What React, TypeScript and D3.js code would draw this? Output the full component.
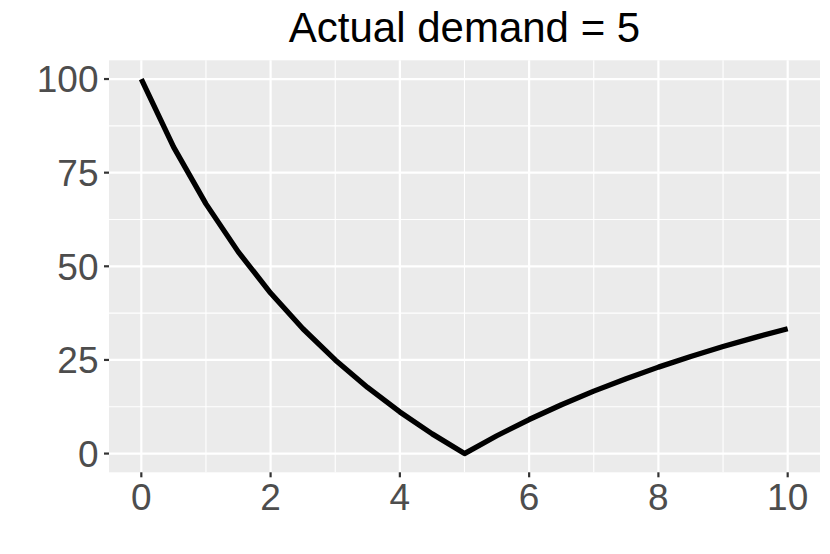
import React from "react";
import * as d3 from "d3";

const forecast = [0, 0.5, 1, 1.5, 2, 2.5, 3, 3.5, 4, 4.5, 5, 5.5, 6, 6.5, 7, 7.5, 8, 8.5, 9, 9.5, 10];
const errorPct = [100, 81.82, 66.67, 53.85, 42.86, 33.33, 25, 17.65, 11.11, 5.26, 0, 4.76, 9.09, 13.04, 16.67, 20, 23.08, 25.93, 28.57, 31.03, 33.33];
const xTicks = [0, 2, 4, 6, 8, 10];
const xMinor = [1, 3, 5, 7, 9];
const yTicks = [0, 25, 50, 75, 100];
const yMinor = [12.5, 37.5, 62.5, 87.5];
const title = "Actual demand = 5";

export default function App() {
  const W = 830, H = 554;
  const left = 109, right = 820, top = 60.3, bottom = 472.3;
  const xs = d3.scaleLinear().domain([-0.5, 10.5]).range([left, right]);
  const ys = d3.scaleLinear().domain([-5, 105]).range([bottom, top]);
  const line = d3.line<number>().x((_, i) => xs(forecast[i])).y((d) => ys(d));
  const font = "Liberation Sans, Arial, Helvetica, sans-serif";
  return (
    <svg width={W} height={H} style={{ position: "absolute", left: 0, top: 0, background: "#fff" }}>
      <rect x={left} y={top} width={right - left} height={bottom - top} fill="#EBEBEB" />
      {xMinor.map((v) => (
        <line key={"xm" + v} x1={xs(v)} x2={xs(v)} y1={top} y2={bottom} stroke="#fff" strokeWidth={1.1} />
      ))}
      {yMinor.map((v) => (
        <line key={"ym" + v} y1={ys(v)} y2={ys(v)} x1={left} x2={right} stroke="#fff" strokeWidth={1.1} />
      ))}
      {xTicks.map((v) => (
        <line key={"xM" + v} x1={xs(v)} x2={xs(v)} y1={top} y2={bottom} stroke="#fff" strokeWidth={2.2} />
      ))}
      {yTicks.map((v) => (
        <line key={"yM" + v} y1={ys(v)} y2={ys(v)} x1={left} x2={right} stroke="#fff" strokeWidth={2.2} />
      ))}
      <path d={line(errorPct) || ""} fill="none" stroke="#000" strokeWidth={5.3} strokeLinejoin="round" strokeLinecap="butt" />
      {xTicks.map((v) => (
        <g key={"xt" + v}>
          <line x1={xs(v)} x2={xs(v)} y1={bottom} y2={bottom + 5} stroke="#333" strokeWidth={2.2} />
          <text x={xs(v)} y={510} textAnchor="middle" fontFamily={font} fontSize={37} fill="#4D4D4D">{v}</text>
        </g>
      ))}
      {yTicks.map((v) => (
        <g key={"yt" + v}>
          <line x1={left - 5} x2={left} y1={ys(v)} y2={ys(v)} stroke="#333" strokeWidth={2.2} />
          <text x={98.5} y={ys(v)} dy="0.36em" textAnchor="end" fontFamily={font} fontSize={37} fill="#4D4D4D">{v}</text>
        </g>
      ))}
      <text x={(left + right) / 2} y={41.5} textAnchor="middle" fontFamily={font} fontSize={42} fill="#000">{title}</text>
    </svg>
  );
}
